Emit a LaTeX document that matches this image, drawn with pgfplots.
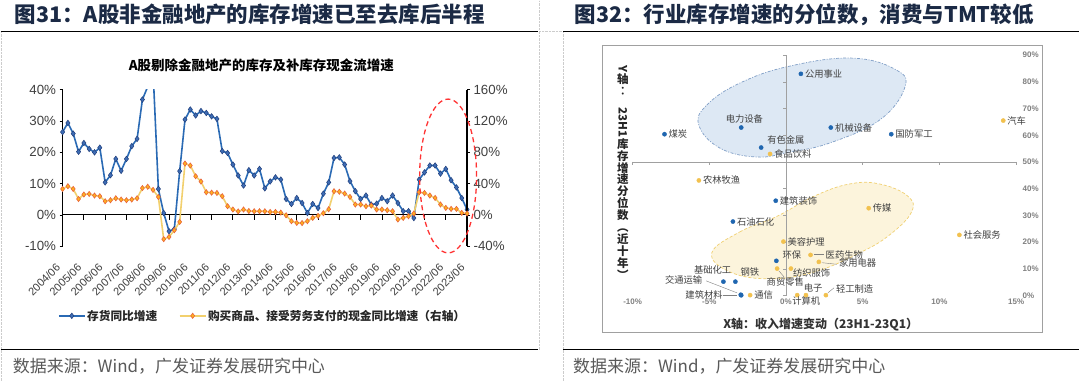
\documentclass[border=0pt]{standalone}
\usepackage{fontspec}
\setmainfont{Liberation Sans}
\newfontfamily\cjk{Noto Sans CJK SC}
\usepackage{graphicx}
\usepackage{pgfplots}
\usepackage{pgfplotstable}
\pgfplotsset{compat=1.18}
\definecolor{titlec}{HTML}{1B2A45}
\definecolor{tickc}{HTML}{404040}
\definecolor{invblue}{HTML}{2A6AB4}
\definecolor{invmark}{HTML}{3E6DB5}
\definecolor{invedge}{HTML}{1F3D7A}
\definecolor{cashline}{HTML}{F2D06E}
\definecolor{cashfill}{HTML}{FFB21E}
\definecolor{cashedge}{HTML}{E8623C}
\definecolor{redc}{HTML}{FF3333}
\definecolor{sblue}{HTML}{1F66B0}
\definecolor{syel}{HTML}{F2C14E}
\definecolor{labc}{HTML}{404040}
\definecolor{rtick}{HTML}{7F7F7F}
\definecolor{axc}{HTML}{A0A0A0}
\definecolor{footc}{HTML}{595959}
\definecolor{bell}{HTML}{7F9EC6}
\definecolor{belf}{HTML}{DDE8F4}
\definecolor{yell}{HTML}{F0D070}
\definecolor{yelf}{HTML}{FCF4DC}

\pgfplotstableread{
k inv cash
0 26.5 33.2
1 29.4 36.7
2 26.0 33.2
3 20.2 20.4
4 23.0 26.1
5 21.1 26.8
6 20.0 24.8
7 21.5 23.9
8 10.4 17.5
9 12.7 18.8
10 17.9 21.3
11 14.1 19.7
12 17.9 18.8
13 22.0 19.7
14 24.3 21.3
15 36.9 34.3
16 41.0 36.0
17 46.0 32.0
18 8.3 23.0
19 0.6 -31.0
20 -5.2 -28.1
21 -4.5 -19.6
22 14.0 -8.9
23 30.5 65.7
24 33.7 63.1
25 31.8 49.5
26 33.2 42.7
27 32.6 29.0
28 31.5 28.5
29 30.7 28.1
30 20.4 23.9
31 19.8 11.1
32 16.1 6.9
33 12.6 4.5
34 9.4 6.9
35 14.3 5.0
36 12.6 4.7
37 14.7 4.7
38 8.5 4.7
39 10.7 3.8
40 12.0 3.8
41 11.3 3.0
42 5.1 -0.5
43 3.5 -8.0
44 5.4 -10.2
45 3.8 -10.4
46 0.6 -8.0
47 3.5 -3.8
48 2.2 -1.2
49 6.8 2.2
50 10.4 7.3
51 18.2 30.3
52 18.4 29.6
53 16.1 27.3
54 10.8 23.0
55 7.6 13.3
56 5.1 13.3
57 6.2 11.1
58 3.3 12.0
59 3.6 6.9
60 5.4 6.9
61 4.4 6.0
62 6.2 4.7
63 3.8 -5.9
64 1.2 -3.8
65 1.2 -1.7
66 -1.0 1.8
67 11.3 29.0
68 13.6 28.1
69 15.8 24.8
70 15.8 21.7
71 13.2 13.3
72 14.7 9.0
73 11.1 7.7
74 8.8 7.7
75 5.4 2.6
76 1.7 1.8
}\leftdata

% labels: all anchored west, offsets dx, dy in pt
\pgfplotstableread{
x y lab dx dy
-7.92 60.4 煤炭 3 0
-2.92 62.9 电力设备 -16.6 9
-1.62 55.4 有色金属 5 7.7
0.97 83.0 公用事业 3 0
2.92 62.9 机械设备 3 0
6.86 60.4 国防军工 3 0
-0.67 35.5 建筑装饰 3 0
-3.46 27.7 石油石化 3 0
-0.63 13.0 环保 5 6
-3.30 5.2 钢铁 4 10
-4.08 5.2 基础化工 -30.6 12
-2.95 0.3 交通运输 -77 15
-2.92 0.1 建筑材料 -57 0
}\bluepts

\pgfplotstableread{
x y lab dx dy
-1.04 53.0 食品饮料 3 0
14.16 65.5 汽车 3 0
-5.68 43.1 农林牧渔 3 0
-0.17 20.2 美容护理 3 0
1.60 15.2 医药生物 14 0
2.14 12.6 家用电器 19 -1
0.32 10.1 纺织服饰 1 -4
-0.58 10.1 商贸零售 -11.6 -13
-2.34 0.15 通信 3 0
0.73 0.15 计算机 -6 -6
1.30 0.15 电子 -3.3 7
2.60 0.15 轻工制造 9 6
5.39 32.7 传媒 3 0
11.30 22.7 社会服务 3 0
}\yelpts

\begin{document}
\begin{tikzpicture}[x=1pt,y=1pt]
\fill[white] (0,0) rectangle (1080,381);
% separators
\draw[gray!40, densely dotted] (1,0) -- (1,350);
\draw[gray!40, densely dotted] (539,31) -- (539,381);
\draw[gray!40, densely dotted] (563,0) -- (563,350) (539,350) -- (563,350);
% titles
\node[anchor=west, inner sep=0, font=\cjk\bfseries\fontsize{21.5}{22}\selectfont, text=titlec] at (14,366.5) {图31：A股非金融地产的库存增速已至去库后半程};
\node[anchor=west, inner sep=0, font=\cjk\bfseries\fontsize{21.5}{22}\selectfont, text=titlec] at (574.5,366.5) {图32：行业库存增速的分位数，消费与TMT较低};
\draw[black, line width=1.3pt] (0,350) -- (538,350);
\draw[black, line width=1.3pt] (563,350) -- (1080,350);
\draw[black, line width=1.3pt] (0,31) -- (538,31);
\draw[black, line width=1.3pt] (563,31) -- (1080,31);
\node[anchor=west, inner sep=0, font=\cjk\fontsize{17}{18}\selectfont, text=footc] at (12,15) {数据来源：Wind，广发证券发展研究中心};
\node[anchor=west, inner sep=0, font=\cjk\fontsize{17}{18}\selectfont, text=footc] at (573,15) {数据来源：Wind，广发证券发展研究中心};
% left chart title
\node[font=\cjk\bfseries\fontsize{13.5}{14}\selectfont] at (261,315.5) {A股剔除金融地产的库存及补库存现金流增速};

% ---------------- left chart -----------------
\begin{axis}[at={(62pt,134.7pt)}, anchor=south west, scale only axis,
  width=405pt, height=156.6pt, xmin=0, xmax=76, ymin=-10, ymax=40,
  axis x line=none, axis y line*=left,
  y axis line style={line width=1.2pt, -},
  ytick={-10,0,...,40}, yticklabels={-10\%,0\%,10\%,20\%,30\%,40\%},
  tick align=outside, major tick length=3pt, tick style={line width=0.8pt, black},
  yticklabel style={font=\fontsize{13.3}{14}\selectfont, text=tickc}]
\draw[black, line width=1.1pt] (axis cs:0,0) -- (axis cs:76,0);
\pgfplotsinvokeforeach{4,8,...,76}{\draw[black, line width=0.8pt] (axis cs:#1,0) -- ++(0pt,-5pt);}
\addplot[invblue, line width=1.6pt, mark=diamond*, mark size=2.8pt,
  mark options={fill=invmark, draw=invedge, line width=0.5pt, solid}] table[x=k, y=inv] {\leftdata};
\end{axis}
\begin{axis}[at={(62pt,134.7pt)}, anchor=south west, scale only axis,
  width=405pt, height=156.6pt, xmin=0, xmax=76, ymin=-40, ymax=160,
  axis x line=none, axis y line*=right,
  y axis line style={line width=1.2pt, -},
  ytick={-40,0,...,160}, yticklabels={-40\%,0\%,40\%,80\%,120\%,160\%},
  tick align=outside, major tick length=3pt, tick style={line width=0.8pt, black},
  yticklabel style={font=\fontsize{13.3}{14}\selectfont, text=tickc, anchor=west}]
\addplot[cashline, line width=1.6pt, mark=diamond*, mark size=2.6pt,
  mark options={fill=cashfill, draw=cashedge, line width=0.6pt, solid}] table[x=k, y=cash] {\leftdata};
\end{axis}
\begin{axis}[at={(62pt,134.7pt)}, anchor=south west, scale only axis,
  width=405pt, height=156.6pt, xmin=0, xmax=76, ymin=-10, ymax=40,
  axis y line=none, axis x line*=bottom, x axis line style={draw=none},
  major tick length=0pt,
  xtick={0,4,...,76},
  xticklabels={2004/06,2005/06,2006/06,2007/06,2008/06,2009/06,2010/06,2011/06,2012/06,2013/06,2014/06,2015/06,2016/06,2017/06,2018/06,2019/06,2020/06,2021/06,2022/06,2023/06},
  xticklabel style={yshift=-17pt, xshift=-2pt, rotate=45, anchor=east, font=\fontsize{11}{11}\selectfont, text=tickc},
  legend style={at={(-0.012,-0.445)}, anchor=west, draw=none, fill=none, legend columns=2,
    font=\cjk\bfseries\fontsize{11.7}{12}\selectfont, text=black!85, inner sep=0pt,
    nodes={inner sep=1.5pt},
    /tikz/every even column/.append style={column sep=20pt}},
  legend image code/.code={\draw[mark repeat=2, mark phase=2, #1] plot coordinates {(0pt,0pt) (13pt,0pt) (26pt,0pt)};}]
\addlegendimage{invblue, line width=1.8pt, mark=diamond*, mark size=2.8pt, mark options={fill=invmark, draw=invedge, line width=0.5pt, solid}}
\addlegendentry{存货同比增速}
\addlegendimage{cashline, line width=1.8pt, mark=diamond*, mark size=2.6pt, mark options={fill=cashfill, draw=cashedge, line width=0.6pt, solid}}
\addlegendentry{购买商品、接受劳务支付的现金同比增速（右轴）}
\end{axis}
\draw[redc, line width=1.3pt, dash pattern=on 5pt off 3.5pt] (448,205) ellipse [x radius=28.5pt, y radius=77pt];

% ---------------- right chart -----------------
\draw[axc, line width=0.9pt] (603,48) rectangle (1043,336);
\draw[draw=bell, fill=belf, line width=0.7pt, dash pattern=on 3pt off 1.5pt on 1pt off 1.5pt]
  plot[smooth cycle, tension=0.7] coordinates {(699,256) (707,276) (740,298) (790,315) (853,323) (897,311) (905,293) (880,261) (830,238) (790,229) (757,224) (720,233)};
\draw[draw=yell, fill=yelf, line width=0.7pt, dash pattern=on 3pt off 2pt]
  plot[smooth cycle, tension=0.7] coordinates {(712,128) (740,149) (776,164) (815,185) (850,197) (880,197) (908,185) (912,169) (890,146) (860,128) (815,109) (770,102) (730,109)};
\node[font=\cjk\bfseries\fontsize{11.5}{11.9}\selectfont, align=center, inner sep=0, text=black!85] at (623,208.5)
  {\rotatebox{-90}{Y}\\轴\\︰\\\rotatebox{-90}{23H1}\\库\\存\\增\\速\\分\\位\\数\\︵\\近\\十\\年\\︶};
\node[font=\cjk\bfseries\fontsize{12}{13}\selectfont, text=black!80] at (821,56) {X轴：收入增速变动（23H1-23Q1）};
\begin{axis}[at={(632.7pt,85.3pt)}, anchor=south west, scale only axis,
  width=384pt, height=240.7pt, xmin=-10, xmax=15, ymin=0, ymax=90, clip=false,
  axis x line*=bottom, axis y line*=right, axis line style={draw=none},
  major tick length=0pt,
  xtick={-10,-5,0,5,10,15}, xticklabels={-10\%,-5\%,0\%,5\%,10\%,15\%},
  ytick={0,10,...,90}, yticklabels={0\%,10\%,20\%,30\%,40\%,50\%,60\%,70\%,80\%,90\%},
  tick label style={font=\bfseries\fontsize{8}{9}\selectfont, text=rtick},
  yticklabel style={anchor=west, xshift=3pt}]
\draw[axc, line width=0.8pt] (axis cs:-10,50) -- (axis cs:15,50);
\draw[axc, line width=0.8pt] (axis cs:0,0) -- (axis cs:0,90);
\pgfplotsinvokeforeach{-10,-5,0,5,10,15}{\draw[axc, line width=0.6pt] (axis cs:#1,50) -- ++(0pt,-3pt);}
\pgfplotsinvokeforeach{0,10,...,90}{\draw[axc, line width=0.6pt] (axis cs:0,#1) -- ++(-3pt,0pt);}
% leader lines
\draw[gray, line width=0.4pt] (axis cs:1.82,15.5) -- (axis cs:2.47,15.5);
\draw[gray, line width=0.4pt] (axis cs:2.34,12.3) -- (axis cs:3.32,11.7);
\draw[gray, line width=0.4pt] (axis cs:2.73,1.0) -- (axis cs:3.13,2.9);
\draw[gray, line width=0.4pt] (axis cs:-0.46,9.2) -- (axis cs:-0.13,7.0);
\draw[gray, line width=0.4pt] (axis cs:-4.1,0.1) -- (axis cs:-3.19,0.1);
\draw[gray, line width=0.4pt] (axis cs:-5.21,5.5) -- (axis cs:-3.19,1.0);
\addplot[only marks, mark=*, mark size=2.1pt, mark options={fill=sblue, draw=sblue},
  point meta=explicit symbolic, nodes near coords,
  visualization depends on={\thisrow{dx}\as\ldx},
  visualization depends on={\thisrow{dy}\as\ldy},
  every node near coord/.append style={anchor=west, xshift=\ldx pt, yshift=\ldy pt,
    font=\cjk\fontsize{9.3}{10}\selectfont, text=labc, inner sep=1pt}]
  table[x=x, y=y, meta=lab] {\bluepts};
\addplot[only marks, mark=*, mark size=2.1pt, mark options={fill=syel, draw=syel},
  point meta=explicit symbolic, nodes near coords,
  visualization depends on={\thisrow{dx}\as\ldx},
  visualization depends on={\thisrow{dy}\as\ldy},
  every node near coord/.append style={anchor=west, xshift=\ldx pt, yshift=\ldy pt,
    font=\cjk\fontsize{9.3}{10}\selectfont, text=labc, inner sep=1pt}]
  table[x=x, y=y, meta=lab] {\yelpts};
\end{axis}
\end{tikzpicture}
\end{document}
